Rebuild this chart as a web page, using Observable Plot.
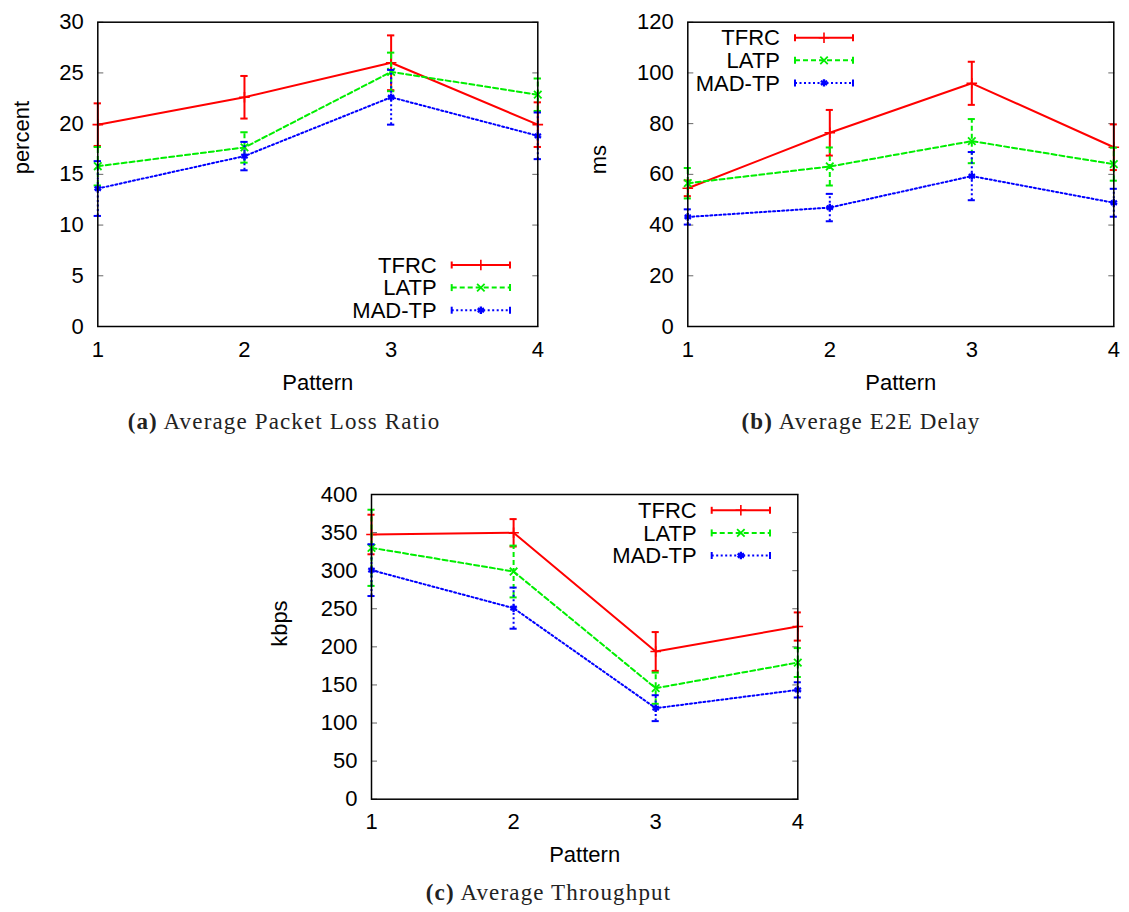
<!DOCTYPE html>
<html><head><meta charset="utf-8">
<script src="https://cdn.jsdelivr.net/npm/d3@7"></script>
<script src="https://cdn.jsdelivr.net/npm/@observablehq/plot@0.6"></script>
<style>
body{margin:0;background:#fff;}
#root{position:relative;width:1129px;height:912px;overflow:hidden;background:#fff;}
.panel{position:absolute;}
.cap{position:absolute;font-family:"Liberation Serif",serif;font-size:23px;letter-spacing:1.15px;white-space:nowrap;transform:translate(-50%,-50%);color:#222;}
.cap b{font-weight:bold;}
</style></head><body><div id="root"></div>
<script>
// ---- data ----
const patterns = [1, 2, 3, 4];
const seriesNames = ["TFRC", "LATP", "MAD-TP"];

// (a) Average Packet Loss Ratio (percent)
const lossTFRC = [19.9, 22.6, 26.0, 19.9];
const lossTFRCErr = [2.1, 2.1, 2.7, 2.2];
const lossLATP = [15.8, 17.65, 25.1, 22.85];
const lossLATPErr = [1.9, 1.5, 1.9, 1.6];
const lossMAD = [13.6, 16.8, 22.6, 18.8];
const lossMADErr = [2.7, 1.4, 2.7, 2.3];

// (b) Average E2E Delay (ms)
const delayTFRC = [54.5, 76.4, 95.9, 70.7];
const delayTFRCErr = [3.1, 9.0, 8.5, 9.0];
const delayLATP = [56.5, 63.1, 73.1, 64.0];
const delayLATPErr = [6.0, 7.5, 8.7, 6.5];
const delayMAD = [43.2, 46.9, 59.3, 48.8];
const delayMADErr = [3.0, 5.4, 9.5, 5.5];

// (c) Average Throughput (kbps)
const tputTFRC = [347.5, 349.7, 193.9, 226.7];
const tputTFRCErr = [26, 18, 25.5, 18.5];
const tputLATP = [330, 298.9, 145.7, 179.4];
const tputLATPErr = [50, 34, 20.5, 19];
const tputMAD = [300.7, 250.8, 119.5, 143.5];
const tputMADErr = [34, 27, 17, 10];

// ---- styles ----
const styles = [
  {color: "#ff0000", dash: null, symbol: "plus", d3sym: d3.symbolPlus, w: 2, mw: 1.6},
  {color: "#00ee00", dash: "5,3", symbol: "times", d3sym: d3.symbolTimes, w: 2, mw: 1.8},
  {color: "#0000ff", dash: "2,2.5", symbol: "asterisk", d3sym: d3.symbolAsterisk, w: 2, mw: 2.4}
];
const FONT = "Liberation Sans, Arial, sans-serif";
const root = document.getElementById("root");

function panel(cfg) {
  const {vals, errs, yMax, yStep, ylabel, left, top, width, height, mL, mR, mT, mB, lgX, lgY, sx1, sx2, ylDx} = cfg;
  const yTicks = d3.range(0, yMax + 1e-9, yStep);
  const cap = 0.025;
  const marks = [];
  seriesNames.forEach((s, i) => {
    const st = styles[i];
    const d = patterns.map((p, j) => ({x: p, y: vals[i][j], e: errs[i][j]}));
    const common = {stroke: st.color, strokeWidth: st.w, strokeDasharray: st.dash};
    marks.push(Plot.ruleX(d, {x: "x", y1: r => r.y - r.e, y2: r => r.y + r.e, ...common}));
    marks.push(Plot.ruleY(d, {y: r => r.y - r.e, x1: r => r.x - cap, x2: r => r.x + cap, stroke: st.color, strokeWidth: st.w}));
    marks.push(Plot.ruleY(d, {y: r => r.y + r.e, x1: r => r.x - cap, x2: r => r.x + cap, stroke: st.color, strokeWidth: st.w}));
    marks.push(Plot.line(d, {x: "x", y: "y", ...common}));
    marks.push(Plot.dot(d, {x: "x", y: "y", symbol: () => st.symbol, r: 3.5, stroke: st.color, strokeWidth: st.mw}));
  });
  const svg = Plot.plot({
    width, height,
    marginLeft: mL, marginRight: mR, marginTop: mT, marginBottom: mB,
    style: {fontFamily: FONT, fontSize: "22px", color: "#000", background: "#fff", overflow: "visible"},
    symbol: {type: "identity"},
    x: {domain: [1, 4], ticks: patterns, tickFormat: d3.format("d")},
    y: {domain: [0, yMax]},
    marks: [
      Plot.axisY(yTicks, {anchor: "left", tickSize: 6, dx: 6, tickFormat: () => "", label: null, stroke: "#666"}),
      Plot.axisY(yTicks, {anchor: "right", tickSize: 6, dx: -6, tickFormat: () => "", label: null, stroke: "#666"}),
      Plot.axisY(yTicks, {anchor: "left", tickSize: 0, tickPadding: 14, label: null}),
      Plot.axisX(patterns, {anchor: "bottom", tickSize: 0, tickPadding: 14.5, label: null, tickFormat: d3.format("d")}),
      Plot.text(["Pattern"], {frameAnchor: "bottom", lineAnchor: "middle", dy: 56, text: d => d, fontSize: 22}),
      Plot.text([ylabel], {frameAnchor: "left", lineAnchor: "middle", dx: ylDx, rotate: -90, text: d => d, fontSize: 22}),
      ...marks,
      Plot.frame({stroke: "#000", strokeWidth: 1.5})
    ]
  });
  // legend
  const g = d3.select(svg).append("g").attr("font-family", FONT).attr("font-size", 22);
  seriesNames.forEach((s, i) => {
    const st = styles[i];
    const y = lgY + i * 22.6;
    g.append("text").attr("x", lgX).attr("y", y).attr("text-anchor", "end").attr("dy", "0.35em").attr("fill", "#000").text(s);
    g.append("line").attr("x1", sx1).attr("x2", sx2).attr("y1", y).attr("y2", y)
      .attr("stroke", st.color).attr("stroke-width", st.w).attr("stroke-dasharray", st.dash);
    [sx1, sx2].forEach(x => g.append("line").attr("x1", x).attr("x2", x).attr("y1", y - 3.5).attr("y2", y + 3.5)
      .attr("stroke", st.color).attr("stroke-width", st.w));
    g.append("path").attr("d", d3.symbol(st.d3sym, Math.PI * 3.5 * 3.5)()).attr("transform", `translate(${(sx1 + sx2) / 2},${y})`)
      .attr("fill", "none").attr("stroke", st.color).attr("stroke-width", st.mw);
  });
  const div = document.createElement("div");
  div.className = "panel";
  div.style.left = left + "px";
  div.style.top = top + "px";
  div.appendChild(svg);
  root.appendChild(div);
}

function caption(letter, text, cx, cy) {
  const c = document.createElement("div");
  c.className = "cap";
  c.style.left = cx + "px";
  c.style.top = cy + "px";
  c.innerHTML = `<b>(${letter})</b> ${text}`;
  root.appendChild(c);
}

panel({
  vals: [lossTFRC, lossLATP, lossMAD], errs: [lossTFRCErr, lossLATPErr, lossMADErr],
  yMax: 30, yStep: 5, ylabel: "percent",
  left: 0, top: 0, width: 560, height: 400, mL: 97.3, mR: 22.7, mT: 21.7, mB: 74,
  lgX: 436.7, lgY: 265, sx1: 451.7, sx2: 510, ylDx: -75.5
});
panel({
  vals: [delayTFRC, delayLATP, delayMAD], errs: [delayTFRCErr, delayLATPErr, delayMADErr],
  yMax: 120, yStep: 20, ylabel: "ms",
  left: 580, top: 0, width: 549, height: 400, mL: 107.3, mR: 15.7, mT: 21.7, mB: 74,
  lgX: 200, lgY: 37.7, sx1: 215, sx2: 273, ylDx: -89
});
panel({
  vals: [tputTFRC, tputLATP, tputMAD], errs: [tputTFRCErr, tputLATPErr, tputMADErr],
  yMax: 400, yStep: 50, ylabel: "kbps",
  left: 260, top: 470, width: 560, height: 420, mL: 111, mR: 22.7, mT: 24, mB: 91.3,
  lgX: 436.7, lgY: 40.3, sx1: 451.7, sx2: 510, ylDx: -91.5
});

caption("a", "Average Packet Loss Ratio", 284, 422);
caption("b", "Average E2E Delay", 861, 422);
caption("c", "Average Throughput", 548.5, 893);
</script></body></html>
